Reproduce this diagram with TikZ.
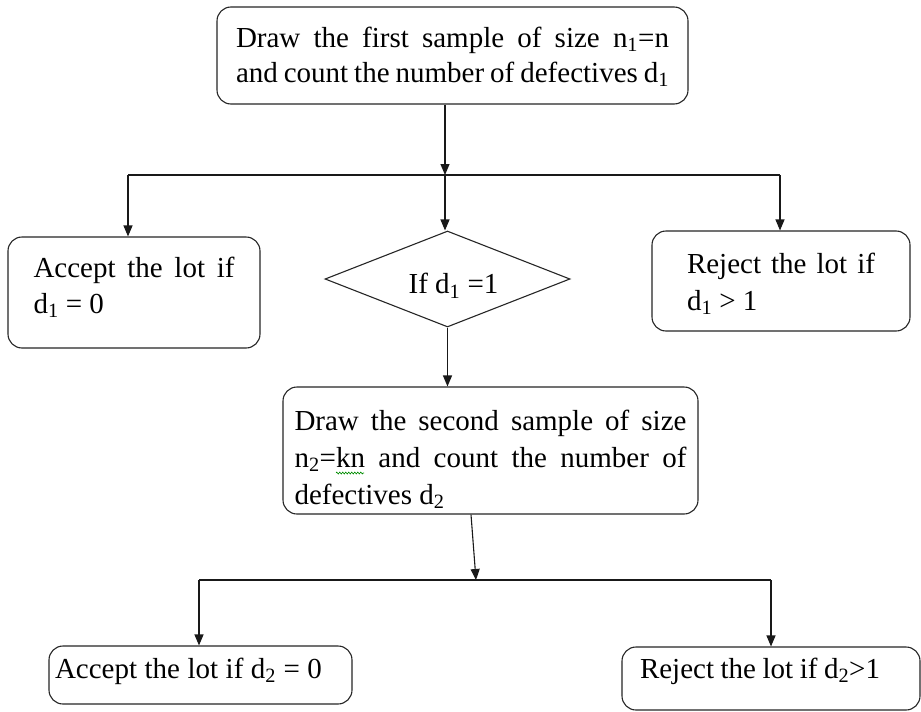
\documentclass[tikz,border=0pt]{standalone}
\usepackage{fontspec}
\setmainfont{Liberation Serif}
\usetikzlibrary{arrows.meta,shapes.geometric,decorations.pathmorphing}
\newcommand{\bt}[4]{\parbox[c][#1][t]{#2}{\rule{0pt}{#3}#4}}
\begin{document}
\begin{tikzpicture}[x=1pt,y=-1pt,
  flowbox/.style={draw=black!85, line width=1.1pt, rounded corners=14pt, inner sep=0pt, fill=white},
  decision/.style={draw=black!85, line width=1.1pt, diamond, aspect=2.55, inner sep=0pt, minimum width=245pt, minimum height=96pt},
  arr/.style={draw=black!90, line width=1.1pt, -{Triangle[length=11pt,width=9pt]}},
  link/.style={draw=black!90, line width=1.1pt},
  squiggle/.style={draw=green!55!black, line width=0.6pt, decorate, decoration={zigzag, amplitude=1pt, segment length=3pt}},
  font=\fontsize{29}{36}\selectfont]
\useasboundingbox (0,0) rectangle (921,712);
\fill[white] (0,0) rectangle (921,712);

\node[flowbox, minimum width=471pt, font=\fontsize{29}{35}\selectfont] (top) at (452.5,55.5)
  {\bt{97pt}{433pt}{40pt}{\makebox[433pt][s]{Draw the first sample of size n\textsubscript{1}=n}\\\makebox[433pt][s]{and count the number of defectives d\textsubscript{1}}}};

\node[flowbox, minimum width=252pt] (acc1) at (134,292.5)
  {\bt{111pt}{201pt}{40pt}{\makebox[201pt][s]{Accept the lot if}\\d\textsubscript{1} = 0}};

\node[decision] (dia) at (447.5,279)
  {\hspace*{12pt}\raisebox{-6pt}[20pt][3pt]{If d\textsubscript{1} =1}};

\node[flowbox, minimum width=258pt, font=\fontsize{29}{37}\selectfont] (rej1) at (781,281)
  {\bt{100pt}{188pt}{42pt}{\makebox[188pt][s]{Reject the lot if}\\d\textsubscript{1} > 1}};

\node[flowbox, minimum width=415pt, font=\fontsize{29}{37}\selectfont] (box2) at (490.5,450.5)
  {\bt{127pt}{392pt}{43pt}{\makebox[392pt][s]{Draw the second sample of size}\\\makebox[392pt][s]{n\textsubscript{2}=kn and count the number of}\\defectives d\textsubscript{2}}};

\node[flowbox, minimum width=303pt] (acc2) at (200.5,675)
  {\bt{58pt}{291pt}{32pt}{\makebox[267pt][s]{Accept the lot if d\textsubscript{2} = 0}}};

\node[flowbox, minimum width=298pt] (rej2) at (771,678.5)
  {\bt{63pt}{262pt}{31pt}{\makebox[240pt][s]{Reject the lot if d\textsubscript{2}>1}}};

\coordinate (j1) at (445,175);
\coordinate (jL) at (128,175);
\coordinate (jR) at (780,175);
\coordinate (j2) at (476,580);
\coordinate (kL) at (199,580);
\coordinate (kR) at (771,580);

\draw[arr] (top.south -| j1) -- (j1);
\draw[link] (jL) -- (jR);
\draw[arr] (jL) -- (jL |- acc1.north);
\draw[arr] (j1) -- (j1 |- dia.north);
\draw[arr] (jR) -- (jR |- rej1.north);
\draw[arr] (dia.south) -- (dia.south |- box2.north);
\draw[arr] ([xshift=-19.5pt]box2.south) -- (j2);
\draw[link] (kL) -- (kR);
\draw[arr] (kL) -- (kL |- acc2.north);
\draw[arr] (kR) -- (kR |- rej2.north);

\draw[squiggle] (336,473) -- (364,473);
\end{tikzpicture}
\end{document}
